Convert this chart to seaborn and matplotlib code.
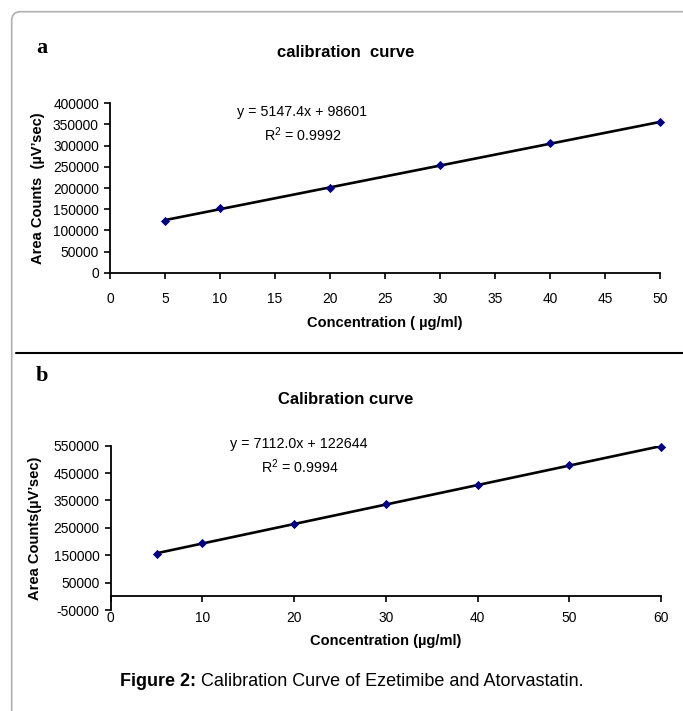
import numpy as np
import pandas as pd
import matplotlib
matplotlib.use("Agg")
import matplotlib.pyplot as plt
import seaborn as sns
from matplotlib.patches import FancyBboxPatch
from matplotlib.lines import Line2D

# Data
conc_a = [5, 10, 20, 30, 40, 50]
area_a = [122800, 152100, 200000, 253600, 305500, 355100]
conc_b = [5, 10, 20, 30, 40, 50, 60]
area_b = [155000, 193000, 264000, 338000, 407000, 479000, 545500]

xticks_a = list(range(0, 55, 5))
yticks_a = list(range(0, 450000, 50000))
xticks_b = list(range(0, 70, 10))
yticks_b = list(range(-50000, 650000, 100000))

eq_a = ["y = 5147.4x + 98601", "R$^2$ = 0.9992"]
eq_b = ["y = 7112.0x + 122644", "R$^2$ = 0.9994"]

W, H = 683, 711

sns.set_style("white")
plt.rcParams['font.family'] = ['Liberation Sans', 'DejaVu Sans']
plt.rcParams['mathtext.default'] = 'regular'
plt.rcParams['text.color'] = 'black'
plt.rcParams['axes.labelcolor'] = 'black'

fig = plt.figure(figsize=(W / 100, H / 100), dpi=100)


def px_axes(left, top, right, bottom):
    return fig.add_axes([left / W, 1 - bottom / H, (right - left) / W, (bottom - top) / H])


def style_axis(ax):
    for side in ['top', 'right']:
        ax.spines[side].set_visible(False)
    for side in ['left', 'bottom']:
        ax.spines[side].set_color('black')
        ax.spines[side].set_linewidth(1.3)
    ax.tick_params(axis='both', direction='out', colors='black', labelsize=9.9,
                   length=4, width=1.2, left=True, bottom=True)


def draw_curve(ax, x, y):
    df = pd.DataFrame({'conc': x, 'area': y})
    sns.regplot(data=df, x='conc', y='area', ax=ax, ci=None, scatter=False,
                line_kws={'color': 'black', 'lw': 1.9})
    sns.scatterplot(data=df, x='conc', y='area', ax=ax, marker='D', s=22,
                    color='#000080', edgecolor='#000080', linewidth=0,
                    zorder=5, clip_on=False)


# ---- panel a
ax1 = px_axes(110, 103.3, 660, 272.7)
draw_curve(ax1, conc_a, area_a)
style_axis(ax1)
ax1.set_xlim(0, 50)
ax1.set_ylim(0, 400000)
ax1.set_xticks(xticks_a)
ax1.set_xticklabels([str(v) for v in xticks_a])
ax1.set_yticks(yticks_a)
ax1.set_yticklabels([str(v) for v in yticks_a])
ax1.tick_params(axis='x', pad=10)
ax1.tick_params(axis='y', pad=4)
ax1.set_xlabel("Concentration ( µg/ml)", fontsize=10.5, fontweight='bold')
ax1.set_ylabel("Area Counts  (µV’sec)", fontsize=10.5, fontweight='bold')
ax1.xaxis.set_label_coords(0.5, -0.255)
ax1.yaxis.set_label_coords(-0.118, 0.5)

# ---- panel b
ax2 = px_axes(110.7, 445.7, 661, 610)
draw_curve(ax2, conc_b, area_b)
style_axis(ax2)
ax2.set_xlim(0, 60)
ax2.set_ylim(-50000, 550000)
ax2.spines['bottom'].set_position(('data', 0))
ax2.set_xticks(xticks_b)
ax2.set_xticklabels([str(v) for v in xticks_b])
ax2.set_yticks(yticks_b)
ax2.set_yticklabels([str(v) for v in yticks_b])
ax2.tick_params(axis='x', pad=6.5)
ax2.tick_params(axis='y', pad=4)
ax2.set_xlabel("Concentration (µg/ml)", fontsize=10.5, fontweight='bold')
ax2.set_ylabel("Area Counts(µV’sec)", fontsize=10.5, fontweight='bold')
ax2.xaxis.set_label_coords(0.5, -0.146)
ax2.yaxis.set_label_coords(-0.125, 0.5)

# ---- titles, panel letters, equations
fig.text(345.7 / W, 1 - 52.3 / H, "calibration  curve", ha='center', va='center',
         fontsize=12, fontweight='bold')
fig.text(346 / W, 1 - 400 / H, "Calibration curve", ha='center', va='center',
         fontsize=12, fontweight='bold')
fig.text(42 / W, 1 - 48 / H, "a", ha='center', va='center', fontsize=16,
         fontweight='bold', family=['Liberation Serif', 'DejaVu Serif'])
fig.text(42 / W, 1 - 376 / H, "b", ha='center', va='center', fontsize=16,
         fontweight='bold', family=['Liberation Serif', 'DejaVu Serif'])

fig.text(302 / W, 1 - 111.7 / H, eq_a[0], ha='center', va='center', fontsize=10.3)
fig.text(303 / W, 1 - 135 / H, eq_a[1], ha='center', va='center', fontsize=10.3)
fig.text(299 / W, 1 - 444.3 / H, eq_b[0], ha='center', va='center', fontsize=10.3)
fig.text(300 / W, 1 - 467 / H, eq_b[1], ha='center', va='center', fontsize=10.3)

# ---- frame and separator
frame = FancyBboxPatch((11.7 / 100, -1.0), 8.0, (H - 11.7) / 100 + 1.0,
                       boxstyle="round,pad=0,rounding_size=0.09",
                       transform=fig.dpi_scale_trans, facecolor='none',
                       edgecolor='#b0b0b0', linewidth=1.2)
fig.add_artist(frame)
fig.add_artist(Line2D([16 / W, 1], [1 - 353.3 / H] * 2, color='black', lw=1.5))

# ---- caption: bold "Figure 2:" followed by regular text
cap_y = 1 - 682 / H
t1 = fig.text(120 / W, cap_y, "Figure 2:", ha='left', va='center', fontsize=13,
              fontweight='bold')
fig.canvas.draw()
bb = t1.get_window_extent()
fig.text(bb.x1 / W, cap_y, " Calibration Curve of Ezetimibe and Atorvastatin.",
         ha='left', va='center', fontsize=13)

fig.savefig("out.png", dpi=100)
